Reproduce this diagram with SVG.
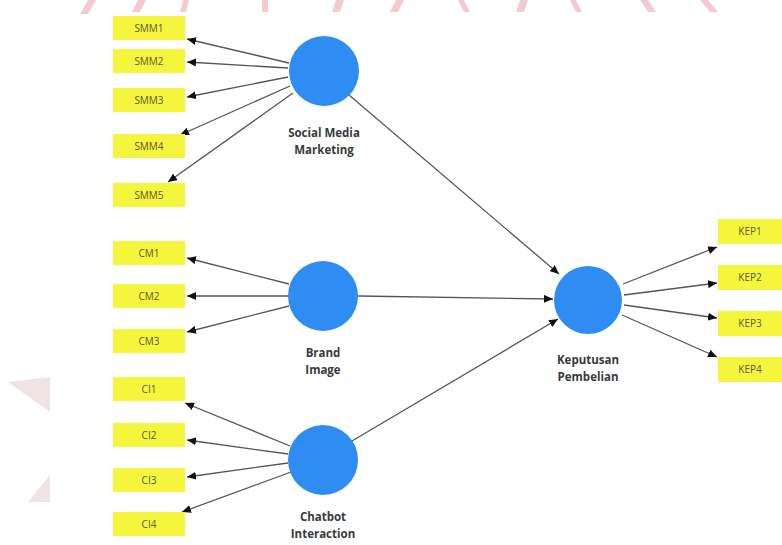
<svg xmlns="http://www.w3.org/2000/svg" width="782" height="545" viewBox="0 0 782 545">
<defs>
<style>
.ind rect{fill:#f5f53e}
.ind text{font-family:"Open Sans","DejaVu Sans",sans-serif;font-size:10px;fill:#5c5c2e;text-anchor:middle}
.lat circle{fill:#2f8cf2}
.lat text{font-family:"Open Sans","DejaVu Sans",sans-serif;font-size:11.5px;font-weight:bold;fill:#3a3a3a;text-anchor:middle}
.edges line{stroke:#555555;stroke-width:1.3;marker-end:url(#ah)}
.wm{fill:#e8a0aa;opacity:0.55}
.wm2{fill:#d9b8b8;opacity:0.4}
</style>
<marker id="ah" markerUnits="userSpaceOnUse" markerWidth="9" markerHeight="8" refX="9" refY="4" orient="auto">
<path d="M0,0 L9,4 L0,8 z" fill="#111"/>
</marker>
</defs>
<rect width="782" height="545" fill="#ffffff"/>
<g id="watermark">
<polygon class="wm" points="88,0 96,0 88,14 80,14"/>
<polygon class="wm" points="138,0 146,0 140,12 132,12"/>
<polygon class="wm" points="183,0 189,0 186,12 180,12"/>
<polygon class="wm" points="262,0 268,0 268,12 262,12"/>
<polygon class="wm" points="336,0 344,0 340,12 332,12"/>
<polygon class="wm" points="396,0 404,0 398,12 390,12"/>
<polygon class="wm" points="458,0 464,0 470,12 464,12"/>
<polygon class="wm" points="520,0 528,0 524,12 516,12"/>
<polygon class="wm" points="570,0 576,0 582,12 576,12"/>
<polygon class="wm" points="640,0 648,0 656,12 648,12"/>
<polygon class="wm" points="700,0 708,0 718,12 710,12"/>
<polygon class="wm2" points="8,382 50,377 50,412"/>
<polygon class="wm2" points="28,502 50,475 50,502"/>
</g>
<g id="connectors" class="edges">
<line x1="289" y1="63" x2="187" y2="39"/>
<line x1="288" y1="68" x2="187" y2="62"/>
<line x1="288" y1="77" x2="187" y2="97"/>
<line x1="290" y1="86" x2="180" y2="135"/>
<line x1="293" y1="93" x2="168" y2="182"/>
<line x1="289" y1="284" x2="187" y2="258"/>
<line x1="288" y1="296" x2="187" y2="296"/>
<line x1="289" y1="306" x2="187" y2="332"/>
<line x1="290" y1="446" x2="185" y2="403"/>
<line x1="288" y1="454" x2="187" y2="440"/>
<line x1="288" y1="463" x2="187" y2="477"/>
<line x1="291" y1="472" x2="182" y2="512"/>
<line x1="623" y1="284" x2="717" y2="247"/>
<line x1="624" y1="295" x2="717" y2="283"/>
<line x1="624" y1="305" x2="717" y2="318"/>
<line x1="622" y1="315" x2="717" y2="357"/>
<line x1="349" y1="95" x2="559" y2="274"/>
<line x1="358" y1="296" x2="553" y2="299"/>
<line x1="352" y1="441" x2="558" y2="319"/>
</g>
<g id="SMM1" class="ind"><rect x="113" y="16" width="72" height="24"/><text x="149" y="32">SMM1</text></g>
<g id="SMM2" class="ind"><rect x="113" y="49" width="72" height="24"/><text x="149" y="65">SMM2</text></g>
<g id="SMM3" class="ind"><rect x="113" y="88" width="72" height="24"/><text x="149" y="104">SMM3</text></g>
<g id="SMM4" class="ind"><rect x="113" y="134" width="72" height="24"/><text x="149" y="150">SMM4</text></g>
<g id="SMM5" class="ind"><rect x="113" y="183" width="72" height="24"/><text x="149" y="199">SMM5</text></g>
<g id="CM1" class="ind"><rect x="113" y="241" width="72" height="24"/><text x="149" y="257">CM1</text></g>
<g id="CM2" class="ind"><rect x="113" y="284" width="72" height="24"/><text x="149" y="300">CM2</text></g>
<g id="CM3" class="ind"><rect x="113" y="329" width="72" height="24"/><text x="149" y="345">CM3</text></g>
<g id="CI1" class="ind"><rect x="113" y="377" width="72" height="24"/><text x="149" y="393">CI1</text></g>
<g id="CI2" class="ind"><rect x="113" y="423" width="72" height="24"/><text x="149" y="439">CI2</text></g>
<g id="CI3" class="ind"><rect x="113" y="468" width="72" height="24"/><text x="149" y="484">CI3</text></g>
<g id="CI4" class="ind"><rect x="113" y="512" width="72" height="24"/><text x="149" y="528">CI4</text></g>
<g id="KEP1" class="ind"><rect x="718" y="219" width="64" height="25"/><text x="750" y="235">KEP1</text></g>
<g id="KEP2" class="ind"><rect x="718" y="265" width="64" height="25"/><text x="750" y="281">KEP2</text></g>
<g id="KEP3" class="ind"><rect x="718" y="311" width="64" height="25"/><text x="750" y="327">KEP3</text></g>
<g id="KEP4" class="ind"><rect x="718" y="357" width="64" height="25"/><text x="750" y="373">KEP4</text></g>
<g id="SocialMediaMarketing" class="lat"><circle cx="324" cy="71" r="35"/><text x="324" y="137">Social Media</text><text x="324" y="154">Marketing</text></g>
<g id="BrandImage" class="lat"><circle cx="323" cy="296" r="35"/><text x="323" y="357">Brand</text><text x="323" y="374">Image</text></g>
<g id="ChatbotInteraction" class="lat"><circle cx="323" cy="460" r="35"/><text x="323" y="521">Chatbot</text><text x="323" y="538">Interaction</text></g>
<g id="KeputusanPembelian" class="lat"><circle cx="588" cy="300" r="34"/><text x="588" y="364">Keputusan</text><text x="588" y="381">Pembelian</text></g>
</svg>
